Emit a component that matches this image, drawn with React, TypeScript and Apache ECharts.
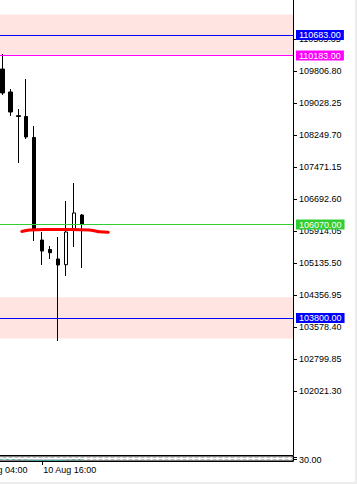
import React, { useEffect, useRef } from "react";
import * as echarts from "echarts";

// ---- data ----
const hiddenLeft = 4; // bars scrolled off the left edge
const barCount = 41; // bars + right-hand chart shift
const timeLabels: Record<number, string> = { 0: "10 Aug 04:00", 9: "10 Aug 16:00" };

// [open, close, low, high]
const candles: number[][] = [
  [109855, 109272, 109223, 110220],
  [109296, 108809, 108712, 109369],
  [108720, 108700, 107569, 108882],
  [108700, 108201, 108152, 109612],
  [108190, 105963, 105671, 108469],
  [105695, 105427, 105087, 105890],
  [105464, 105386, 105233, 105549],
  [105233, 105087, 103238, 105768],
  [105094, 105890, 104819, 106644],
  [105963, 106352, 105525, 107082],
  [106303, 106070, 105014, 106328],
];

const rsiValues = [40, 38, 36, 35, 33, 30, 29, 27, 20, 18, 18, 17, 24, 30, 28];

// hand-drawn red line: [bar position, price]
const redStroke: number[][] = [
  [6.44, 105902],
  [7.44, 105938],
  [9.31, 105950],
  [12.44, 105950],
  [14.94, 105938],
  [15.56, 105919],
  [16.19, 105894],
  [17.31, 105885],
];

const yMin = 100464.2;
const yMax = 111534.2;
const yStep = 778.55;
const yTicks = [
  101242.75, 102021.3, 102799.85, 103578.4, 104356.95, 105135.5, 105914.05,
  106692.6, 107471.15, 108249.7, 109028.25, 109806.8, 110585.35, 111363.9,
];

const levels = [
  { value: 110683, line: "#0000ff", bg: "#0000ff" },
  { value: 110183, line: "#ff00ff", bg: "#ff00ff" },
  { value: 106070, line: "#32cd32", bg: "#32cd32" },
  { value: 103800, line: "#0000ff", bg: "#0000ff" },
];
const zones = [
  [110183, 111183],
  [103300, 104300],
];
const rsiLevels = [30, 70];
const rsiLabels = [30];

const FONT = "Liberation Sans";

export default function App() {
  const ref = useRef<HTMLDivElement>(null);
  useEffect(() => {
    if (!ref.current) return;
    const chart = echarts.init(ref.current, undefined, { renderer: "svg" });
    const categories = Array.from({ length: barCount }, (_, i) => String(i));
    const candleData = candles.map((c, i) => [i + hiddenLeft, ...c]);
    const rsiData = rsiValues.map((v, i) => [i, v]);
    const labelFn = (idx: number) => !!timeLabels[idx];

    const option: any = {
      animation: false,
      backgroundColor: "#ffffff",
      grid: [
        {
          left: -33.5,
          right: 62,
          top: 0,
          bottom: 27,
          show: false,
          containLabel: false,
          outerBoundsMode: "none",
        },
        {
          left: -33.5,
          right: 62,
          top: 456,
          height: 5,
          show: true,
          borderColor: "#000",
          borderWidth: 1,
          backgroundColor: "transparent",
          containLabel: false,
          outerBoundsMode: "none",
        },
      ],
      xAxis: [
        {
          type: "category",
          gridIndex: 0,
          data: categories,
          boundaryGap: true,
          axisLine: { show: true, onZero: false, lineStyle: { color: "#000", width: 1 } },
          axisTick: { show: false },
          axisLabel: { show: false },
          splitLine: { show: false },
        },
        {
          type: "value",
          gridIndex: 0,
          min: -0.5,
          max: barCount - 0.5,
          show: false,
          axisLine: { show: false, onZero: false },
          splitLine: { show: false },
        },
        {
          type: "category",
          gridIndex: 1,
          data: categories,
          boundaryGap: true,
          axisLine: { show: true, onZero: false, lineStyle: { color: "#000", width: 1 } },
          axisTick: {
            show: true,
            interval: labelFn,
            alignWithLabel: true,
            length: 4,
            lineStyle: { color: "#000" },
          },
          axisLabel: {
            show: true,
            interval: labelFn,
            align: "left",
            margin: 4,
            color: "#000",
            fontSize: 9,
            fontFamily: FONT,
            hideOverlap: false,
            formatter: (_v: string, idx: number) =>
              idx === 0 ? `{far|${timeLabels[idx]}}` : `{near|${timeLabels[idx] || ""}}`,
            rich: {
              far: { padding: [0, 0, 0, 4], color: "#000", fontSize: 9, fontFamily: FONT },
              near: { padding: [0, 0, 0, 1], color: "#000", fontSize: 9, fontFamily: FONT },
            },
          },
          splitLine: { show: false },
        },
      ],
      yAxis: [
        {
          type: "value",
          gridIndex: 0,
          position: "right",
          min: yMin,
          max: yMax,
          interval: yStep,
          axisLine: { show: true, onZero: false, lineStyle: { color: "#000", width: 1 } },
          axisTick: { show: true, length: 4, lineStyle: { color: "#000" }, customValues: yTicks },
          axisLabel: {
            show: true,
            margin: 6,
            color: "#000",
            fontSize: 9,
            fontFamily: FONT,
            showMinLabel: false,
            showMaxLabel: false,
            hideOverlap: false,
            customValues: yTicks,
            formatter: (v: number) => v.toFixed(2),
          },
          splitLine: { show: false },
        },
        {
          type: "value",
          gridIndex: 1,
          position: "right",
          min: 0,
          max: 100,
          axisLine: { show: true, onZero: false, lineStyle: { color: "#000", width: 1 } },
          axisTick: { show: true, length: 4, lineStyle: { color: "#000" }, customValues: rsiLevels },
          axisLabel: {
            show: true,
            margin: 6,
            color: "#000",
            fontSize: 9,
            fontFamily: FONT,
            customValues: rsiLabels,
            formatter: (v: number) => v.toFixed(2),
          },
          splitLine: { show: false },
        },
      ],
      series: [
        {
          name: "zones",
          type: "line",
          xAxisIndex: 1,
          yAxisIndex: 0,
          data: [],
          z: 1,
          silent: true,
          markArea: {
            silent: true,
            itemStyle: { color: "#ffe4e1", opacity: 1 },
            data: zones.map((z) => [{ yAxis: z[0] }, { yAxis: z[1] }]),
          },
        },
        {
          name: "levels",
          type: "line",
          xAxisIndex: 1,
          yAxisIndex: 0,
          data: [],
          z: 2,
          clip: false,
          silent: true,
          markLine: {
            silent: true,
            symbol: "none",
            animation: false,
            data: levels.map((l) => ({
              yAxis: l.value,
              lineStyle: { color: l.line, width: 1, type: "solid" },
              label: {
                show: true,
                position: "end",
                distance: 3,
                color: "#fff",
                backgroundColor: l.bg,
                fontSize: 9,
                fontFamily: FONT,
                lineHeight: 10,
                padding: [0, 3],
                formatter: () => l.value.toFixed(2),
              },
            })),
          },
        },
        {
          name: "price",
          type: "candlestick",
          xAxisIndex: 0,
          yAxisIndex: 0,
          z: 3,
          barWidth: 4,
          encode: { x: 0, y: [1, 2, 3, 4] },
          data: candleData,
          itemStyle: {
            color: "#ffffff",
            color0: "#000000",
            borderColor: "#000000",
            borderColor0: "#000000",
            borderWidth: 1,
          },
        },
        {
          name: "drawing",
          type: "line",
          xAxisIndex: 1,
          yAxisIndex: 0,
          z: 4,
          data: redStroke,
          smooth: 0.4,
          symbol: "none",
          lineStyle: { color: "#ff0000", width: 3, cap: "round", join: "round" },
        },
        {
          name: "RSI",
          type: "line",
          xAxisIndex: 2,
          yAxisIndex: 1,
          data: rsiData,
          symbol: "none",
          lineStyle: { color: "#20b2aa", width: 1 },
          markLine: {
            silent: true,
            symbol: "none",
            label: { show: false },
            lineStyle: { color: "#c0c0c0", type: "dashed", width: 1 },
            data: rsiLevels.map((v) => ({ yAxis: v })),
          },
        },
      ],
    };
    chart.setOption(option);
    return () => chart.dispose();
  }, []);

  return (
    <div
      style={{
        position: "absolute",
        left: 0,
        top: 0,
        width: 357,
        height: 484,
        boxSizing: "border-box",
        borderRight: "2px solid #ececec",
        borderBottom: "2px solid #ececec",
        background: "#fff",
      }}
    >
      <div ref={ref} style={{ width: 355, height: 482 }} />
    </div>
  );
}
